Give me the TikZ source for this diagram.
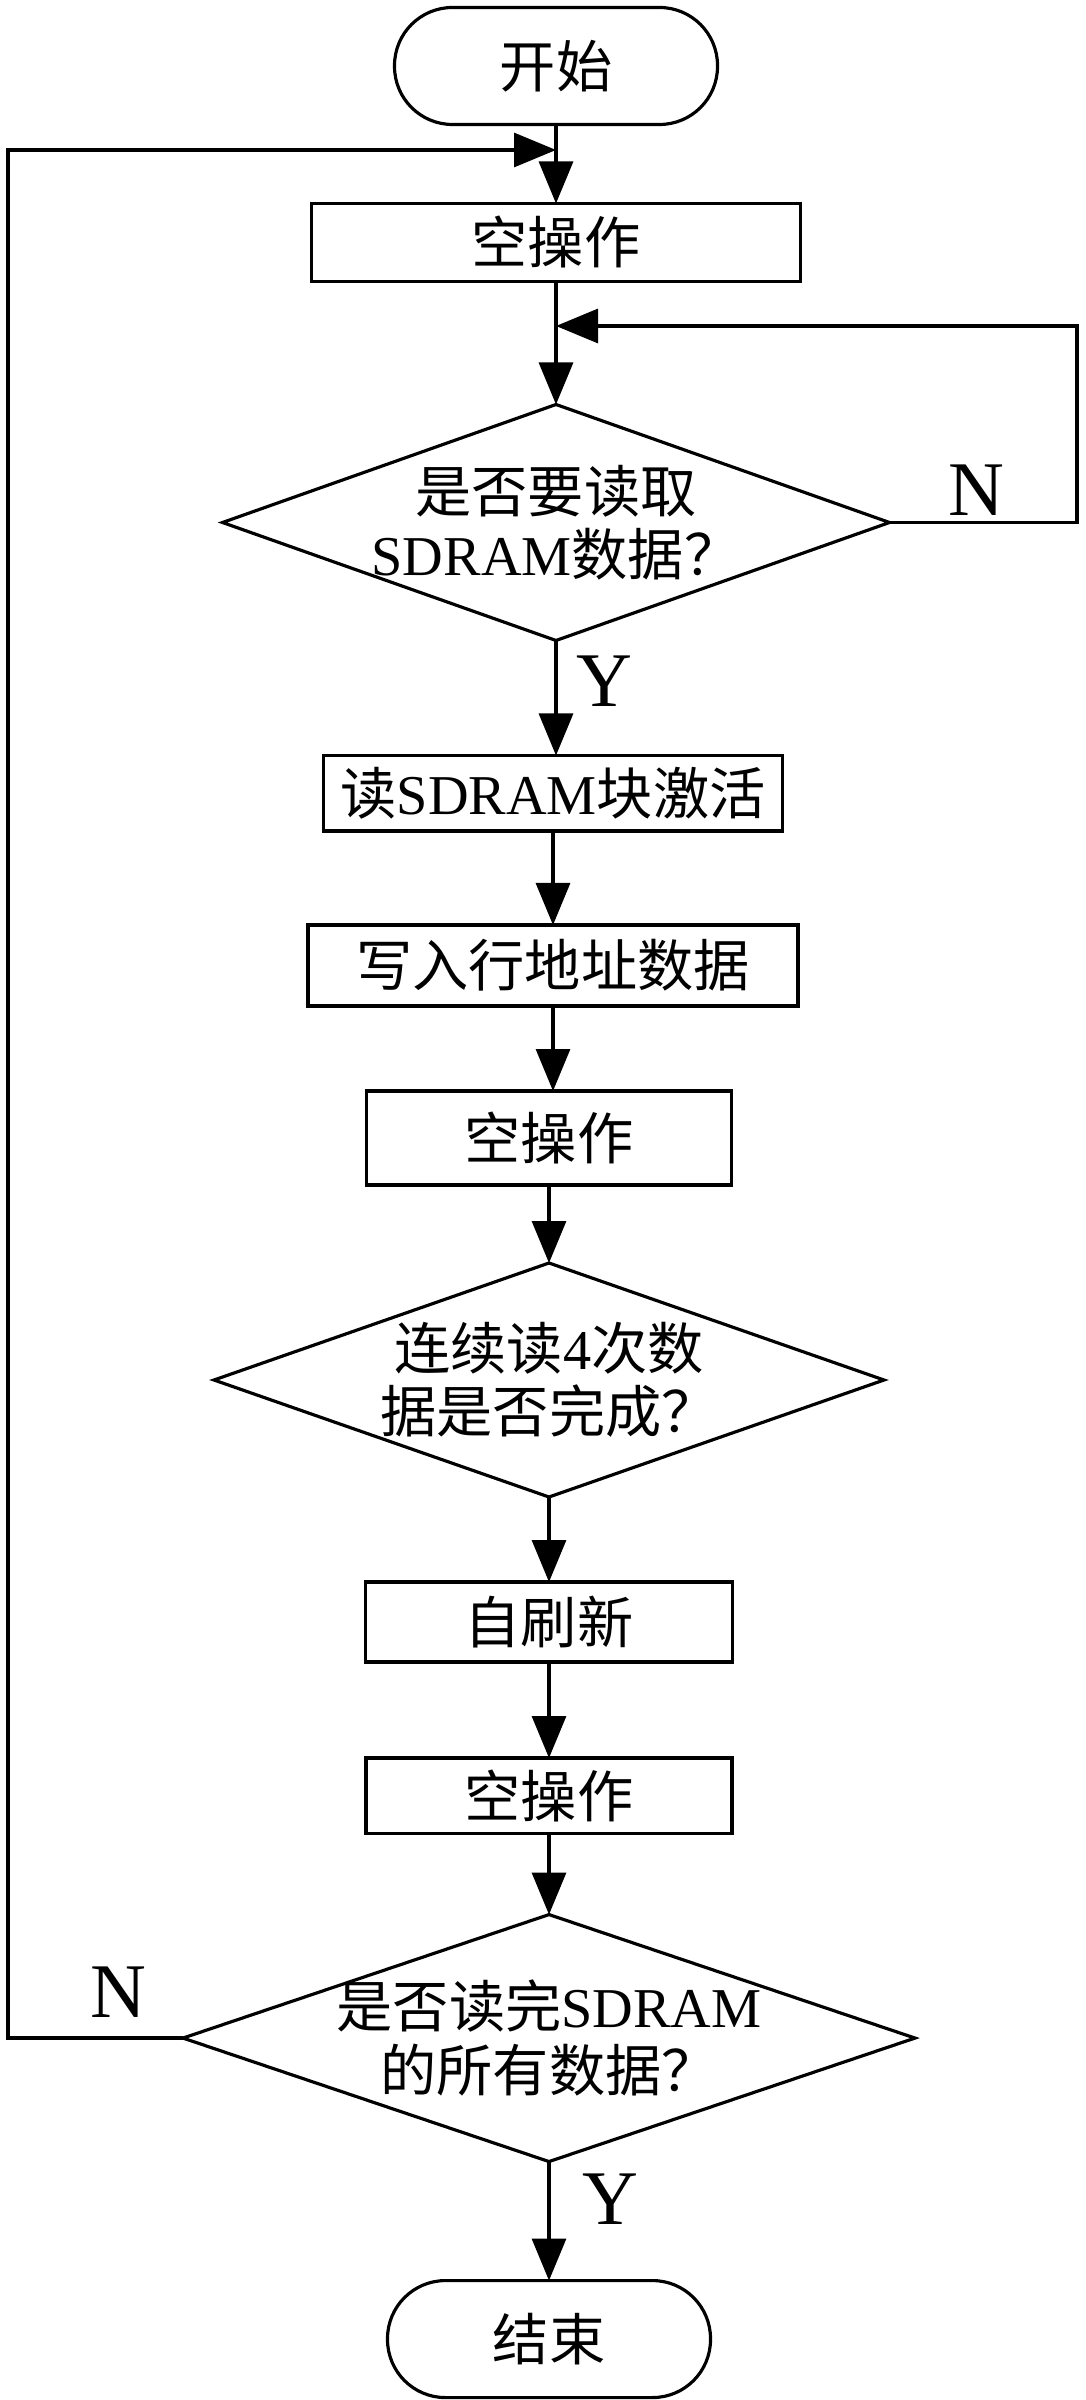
\documentclass[tikz,border=0pt]{standalone}
\usepackage{fontspec}
\setmainfont{Liberation Serif}
\newfontfamily\cjk{Noto Sans CJK SC}
\usetikzlibrary{shapes.geometric,arrows.meta,positioning}
\newcommand{\zh}[1]{{\cjk #1}}

\begin{document}
\begin{tikzpicture}[
    every node/.style={font=\fontsize{16}{18}\selectfont, outer sep=0pt},
    terminal/.style={rectangle, rounded corners=0.58cm, draw=black, line width=0.9pt, minimum width=3.23cm, minimum height=1.17cm},
    process/.style={rectangle, draw=black, line width=0.9pt},
    decision/.style={diamond, draw=black, line width=0.9pt, inner sep=0pt},
    dtext/.style={align=center},
    yn/.style={font=\fontsize{22}{22}\selectfont},
    arrow/.style={-{Triangle[length=0.42cm,width=0.34cm]}, line width=0.9pt}
]

% Fix the page to the size of the reference
\useasboundingbox (0,0) rectangle (10.85,-24);

% Main column
\node[terminal] (start) at (5.56,-0.66) {\zh{开始}};
\node[process, minimum width=4.89cm, minimum height=0.78cm, below=0.79cm of start] (nop1) {\zh{空操作}};
\node[decision, minimum width=6.67cm, minimum height=2.36cm, below=1.23cm of nop1,
      label={[dtext]center:\zh{是否要读取}\\SDRAM\zh{数据？}}] (ask) {};
\node[process, minimum width=4.59cm, minimum height=0.70cm, below=1.15cm of ask, xshift=-0.03cm] (act) {\zh{读}SDRAM\zh{块激活}};
\node[process, minimum width=4.90cm, minimum height=0.81cm, below=0.94cm of act] (row) {\zh{写入行地址数据}};
\node[process, minimum width=3.65cm, minimum height=0.94cm, below=0.85cm of row, xshift=-0.04cm] (nop2) {\zh{空操作}};
\node[decision, minimum width=6.70cm, minimum height=2.34cm, below=0.78cm of nop2,
      label={[dtext]center:\zh{连续读}4\zh{次数}\\\zh{据是否完成？}}] (burst) {};
\node[process, minimum width=3.67cm, minimum height=0.80cm, below=0.85cm of burst] (refresh) {\zh{自刷新}};
\node[process, minimum width=3.66cm, minimum height=0.72cm, below=0.96cm of refresh] (nop3) {\zh{空操作}};
\node[decision, minimum width=7.32cm, minimum height=2.47cm, below=0.81cm of nop3,
      label={[dtext]center:\zh{是否读完}SDRAM\\\zh{的所有数据？}}] (done) {};
\node[terminal, below=1.19cm of done] (stop) {\zh{结束}};

% Loop corners
\coordinate (lefttop) at (0.08,-1.50);
\coordinate (righttop) at (10.77,-3.26);

% Branch labels
\node[yn] (askno) at (9.76,-4.90) {N};
\node[yn] (askyes) at (6.04,-6.81) {Y};
\node[yn] (doneno) at (1.18,-19.92) {N};
\node[yn] (doneyes) at (6.10,-21.99) {Y};

% Arrows
\draw[arrow] (start) -- (start |- nop1.north);
\draw[arrow] (nop1) -- (nop1 |- ask.north);
\draw[arrow] (ask) -- (ask |- act.north);
\draw[arrow] (act) -- (act |- row.north);
\draw[arrow] (row) -- (row |- nop2.north);
\draw[arrow] (nop2) -- (nop2 |- burst.north);
\draw[arrow] (burst) -- (burst |- refresh.north);
\draw[arrow] (refresh) -- (refresh |- nop3.north);
\draw[arrow] (nop3) -- (nop3 |- done.north);
\draw[arrow] (done) -- (done |- stop.north);
% feedback loops
\draw[arrow] (ask.east) -- (ask.east -| righttop) -- (righttop) -- (righttop -| nop1);
\draw[arrow] (done.west) -- (done.west -| lefttop) -- (lefttop) -- (lefttop -| start);

\end{tikzpicture}
\end{document}
